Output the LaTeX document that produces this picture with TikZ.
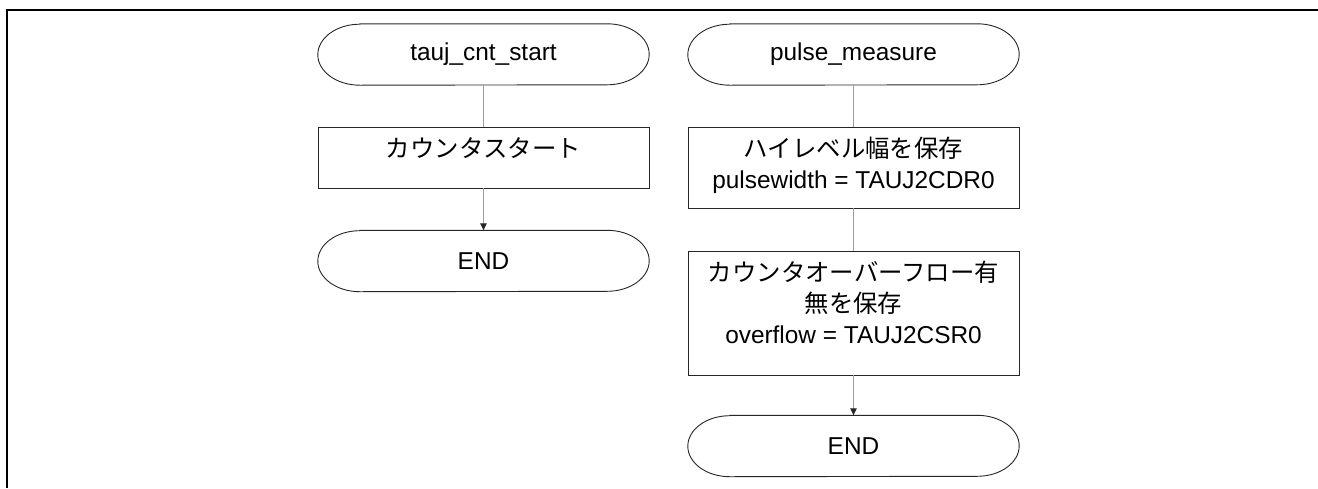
\documentclass[tikz,border=0pt]{standalone}
\usepackage{fontspec}
\setmainfont{Liberation Sans}
\newfontfamily\jpfont{Noto Sans CJK JP}
\usetikzlibrary{arrows.meta}

% outline of a terminal (start/end) node: flat top and bottom, elliptic ends
\newcommand\termoutline[1]{%
  \draw[outline] ([xshift=42pt]#1.north west) -- ([xshift=-42pt]#1.north east)
    arc[start angle=90,end angle=-90,x radius=42pt,y radius=30.5pt]
    -- ([xshift=42pt]#1.south west)
    arc[start angle=270,end angle=90,x radius=42pt,y radius=30.5pt] -- cycle;}
% text of a process box, set from the top of a box of given height
\newcommand\proctext[2]{\parbox[c][#1][t]{331pt}{\centering\rule{0pt}{30pt}#2}}

\begin{document}
\begin{tikzpicture}[x=1pt,y=-1pt,
  outline/.style={draw=black!85, line width=0.9pt},
  textfont/.style={font=\fontsize{24.4}{31}\selectfont},
  term/.style={textfont, minimum width=331pt, minimum height=61pt, inner sep=0pt},
  proc/.style={outline, textfont, inner sep=0pt},
  flow/.style={draw=black!38, line width=1pt},
  flowarrow/.style={flow, -{Triangle[length=7pt,width=6.5pt,color=black!85]}},
  frame/.style={draw=black, line width=2pt}]

\useasboundingbox (0,0) rectangle (1318,488);

% page frame (open to the right and bottom)
\draw[frame] (7,488) -- (7,10) -- (1318,10);

% ---- tauj_cnt_start ----
\node[term] (s1) at (483.5,54.5) {tauj\_cnt\_start};
\termoutline{s1}
\node[proc] (b1) at (483.5,157.5) {\proctext{61pt}{\jpfont カウンタスタート}};
\node[term] (e1) at (483.5,261) {END};
\termoutline{e1}

\draw[flow] (s1.south) -- (b1.north);
\draw[flowarrow] (b1.south) -- (e1.north);

% ---- pulse_measure ----
\node[term] (s2) at (853.5,54.5) {pulse\_measure};
\termoutline{s2}
\node[proc] (r1) at (853.5,167.5) {\proctext{81pt}{{\jpfont ハイレベル幅を保存}\\pulsewidth = TAUJ2CDR0}};
\node[proc] (r2) at (853.5,313) {\proctext{124pt}{{\jpfont カウンタオーバーフロー有}\\{\jpfont 無を保存}\\overflow = TAUJ2CSR0}};
\node[term] (e2) at (853.5,446) {END};
\termoutline{e2}

\draw[flow] (s2.south) -- (r1.north);
\draw[flow] (r1.south) -- (r2.north);
\draw[flowarrow] (r2.south) -- (e2.north);

\end{tikzpicture}
\end{document}
